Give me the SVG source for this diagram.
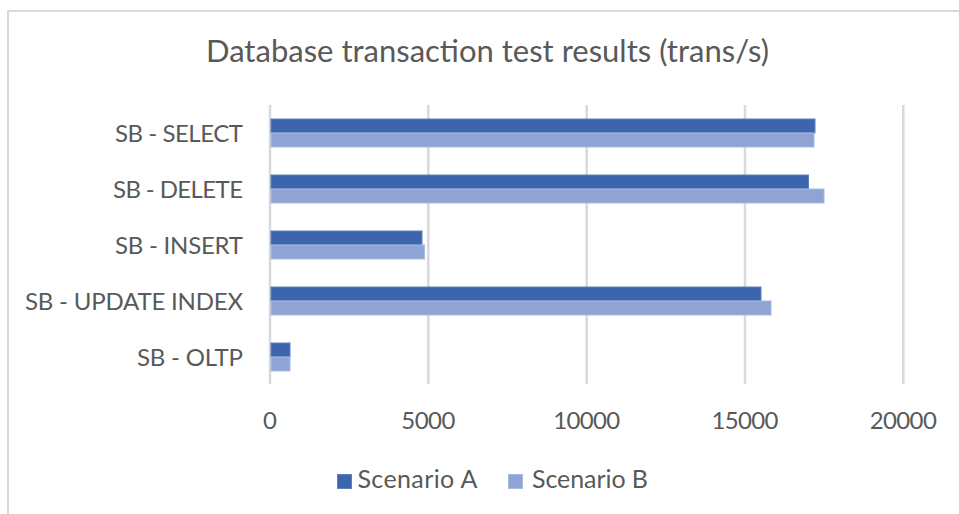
<svg xmlns="http://www.w3.org/2000/svg" width="959" height="514" viewBox="0 0 959 514">
  <style>
    text { font-family: Lato, "Open Sans", "Liberation Sans", sans-serif; fill: #595959; }
    .title { font-size: 31px; }
    .cat { font-size: 24px; text-anchor: end; }
    .tick { font-size: 24px; text-anchor: middle; }
    .leg { font-size: 25px; }
    .grid { stroke: #d9d9d9; stroke-width: 2.5; }
    .a { fill: #3d65ad; stroke: #5f80bd; stroke-width: 1; }
    .b { fill: #8fa4d5; stroke: #a9bae0; stroke-width: 1; }
  </style>

  <!-- chart frame -->
  <rect x="0" y="0" width="959" height="514" fill="#ffffff"/>
  <path d="M8 514 V11 H959" fill="none" stroke="#d9d9d9" stroke-width="2"/>

  <text class="title" x="487.5" y="62" text-anchor="middle">Database transaction test results (trans/s)</text>

  <!-- vertical gridlines, 5000 per step -->
  <g id="gridlines">
    <line class="grid" x1="270" y1="105" x2="270" y2="384"/>
    <line class="grid" x1="428.3" y1="105" x2="428.3" y2="384"/>
    <line class="grid" x1="586.7" y1="105" x2="586.7" y2="384"/>
    <line class="grid" x1="745" y1="105" x2="745" y2="384"/>
    <line class="grid" x1="903.3" y1="105" x2="903.3" y2="384"/>
  </g>

  <!-- value axis labels -->
  <g id="x-axis">
    <text class="tick" x="270" y="429">0</text>
    <text class="tick" x="428.3" y="429" textLength="54">5000</text>
    <text class="tick" x="586.7" y="429" textLength="67">10000</text>
    <text class="tick" x="745" y="429" textLength="67">15000</text>
    <text class="tick" x="903.3" y="429" textLength="67">20000</text>
  </g>

  <g id="select">
    <text class="cat" x="243" y="141.5" textLength="128">SB - SELECT</text>
    <rect class="a" x="271" y="119" width="544" height="14"/>
    <rect class="b" x="271" y="133" width="543" height="14"/>
  </g>

  <g id="delete">
    <text class="cat" x="243" y="197.5" textLength="130">SB - DELETE</text>
    <rect class="a" x="271" y="175" width="537.5" height="14"/>
    <rect class="b" x="271" y="189" width="553" height="14"/>
  </g>

  <g id="insert">
    <text class="cat" x="243" y="253.5" textLength="128">SB - INSERT</text>
    <rect class="a" x="271" y="231" width="151" height="14"/>
    <rect class="b" x="271" y="245" width="153.5" height="14"/>
  </g>

  <g id="update-index">
    <text class="cat" x="243" y="309.5" textLength="218">SB - UPDATE INDEX</text>
    <rect class="a" x="271" y="287" width="490" height="14"/>
    <rect class="b" x="271" y="301" width="500" height="14"/>
  </g>

  <g id="oltp">
    <text class="cat" x="243" y="365.5" textLength="106">SB - OLTP</text>
    <rect class="a" x="271" y="343" width="19" height="14"/>
    <rect class="b" x="271" y="357" width="19" height="14"/>
  </g>

  <g id="legend">
    <rect class="a" x="337.5" y="474.5" width="14" height="14"/>
    <text class="leg" x="357.5" y="488" textLength="120">Scenario A</text>
    <rect class="b" x="508.5" y="474.5" width="14" height="14"/>
    <text class="leg" x="532" y="488" textLength="116">Scenario B</text>
  </g>
</svg>
